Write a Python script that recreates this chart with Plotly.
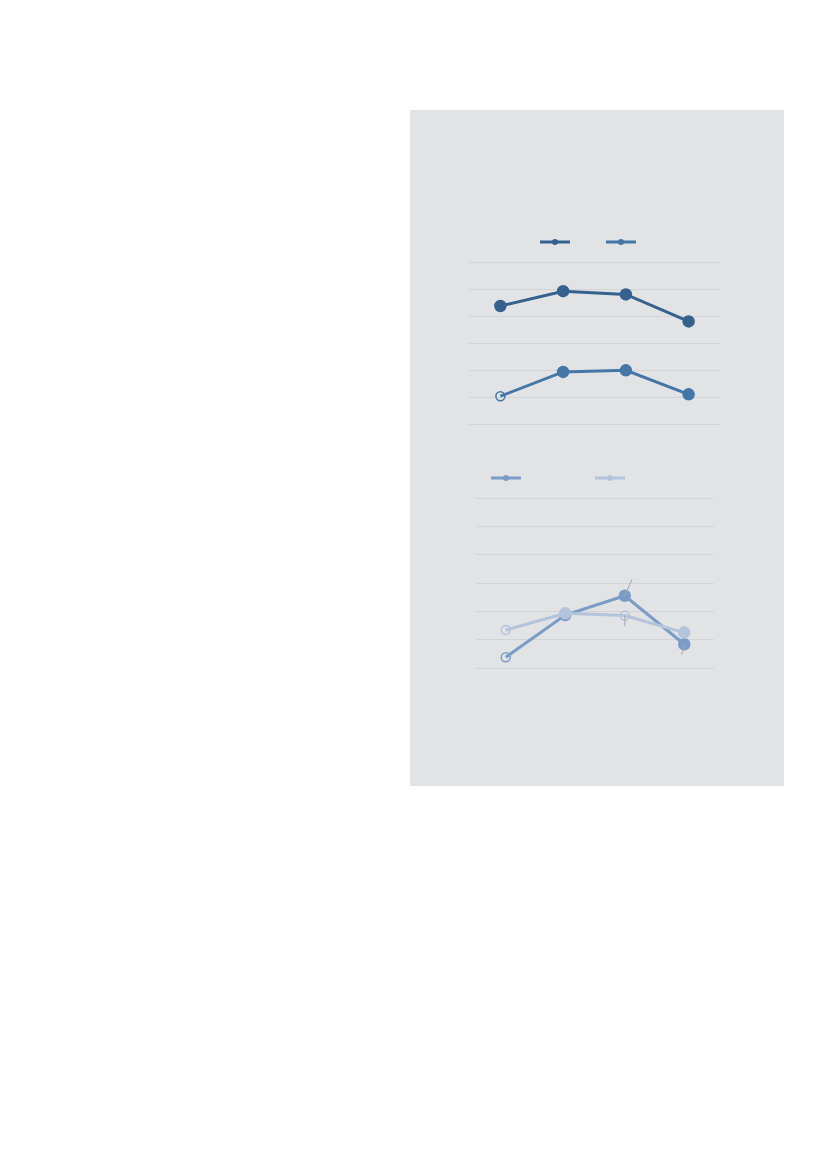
import plotly.graph_objects as go

# ---- data ----
categories = ["P1", "P2", "P3", "P4"]

top_series_a = [43.8, 49.3, 48.1, 38.1]
top_series_b = [10.4, 19.4, 20.0, 11.1]
top_symbols_a = ["circle", "circle", "circle", "circle"]
top_symbols_b = ["circle-open", "circle", "circle", "circle"]

bottom_series_c = [3.9, 18.8, 25.6, 8.5]
bottom_series_d = [13.5, 19.4, 18.6, 12.6]
bottom_symbols_c = ["circle-open", "circle", "circle", "circle"]
bottom_symbols_d = ["circle-open", "circle", "circle-open", "circle"]

names = ["Series A", "Series B", "Series C", "Series D"]
colors = ["#34618e", "#4576a8", "#7a9cc6", "#b3c4dc"]

y_ticks = [0, 10, 20, 30, 40, 50, 60]

W, H = 827, 1169
OFF = 8  # page body margin
PANEL = "#e2e3e5"
GRID = "#d2d4d7"


def fx(v):
    return (v - OFF) / W


def fy(v):
    return 1 - (v - OFF) / H


fig = go.Figure()


def add_series(xa, ya, vals, symbols, color, legend, name):
    sizes = [9 if "open" in s else 11 for s in symbols]
    fig.add_trace(go.Scatter(
        x=categories, y=vals, mode="lines+markers",
        line=dict(color=color, width=3),
        marker=dict(color=color, size=sizes, symbol=symbols, opacity=1,
                    line=dict(color=color, width=1.5)),
        xaxis=xa, yaxis=ya, showlegend=False, name=name,
    ))
    # legend-only entry
    fig.add_trace(go.Scatter(
        x=[None], y=[None], mode="lines+markers",
        line=dict(color=color, width=3),
        marker=dict(color=color, size=6, opacity=1),
        xaxis=xa, yaxis=ya, showlegend=True, legend=legend, name=name,
    ))


add_series("x", "y", top_series_a, top_symbols_a, colors[0], "legend", names[0])
add_series("x", "y", top_series_b, top_symbols_b, colors[1], "legend", names[1])
add_series("x2", "y2", bottom_series_c, bottom_symbols_c, colors[2], "legend2", names[2])
add_series("x2", "y2", bottom_series_d, bottom_symbols_d, colors[3], "legend2", names[3])

axis_common = dict(showticklabels=False, showline=False, zeroline=False)

# top plot: 0 at y=424.3, 60 at y=262.3  (2.7 px/unit), padded by 2 units
# bottom plot: 0 at 668.3, 60 at 498.3 (2.833 px/unit), padded by 2 units
fig.update_layout(
    width=W, height=H,
    margin=dict(l=0, r=0, t=0, b=0),
    paper_bgcolor="white",
    plot_bgcolor="rgba(0,0,0,0)",
    font=dict(family="Roboto", size=10),
    xaxis=dict(domain=[fx(469), fx(720)], range=[-0.5, 3.5],
               showgrid=False, anchor="y", **axis_common),
    yaxis=dict(domain=[fy(424.3 + 5.4), fy(262.3 - 5.4)], range=[-2, 62],
               tickvals=y_ticks, showgrid=True, gridcolor=GRID, gridwidth=1,
               anchor="x", **axis_common),
    xaxis2=dict(domain=[fx(476), fx(714)], range=[-0.5, 3.5],
                showgrid=False, anchor="y2", **axis_common),
    yaxis2=dict(domain=[fy(668.3 + 5.67), fy(498.3 - 5.67)], range=[-2, 62],
                tickvals=y_ticks, showgrid=True, gridcolor=GRID, gridwidth=1,
                anchor="x2", **axis_common),
    legend=dict(orientation="h", x=(527 - 0) / W, xanchor="left",
                y=fy(242), yanchor="middle",
                bgcolor="rgba(0,0,0,0)", entrywidth=21, entrywidthmode="pixels",
                font=dict(color="rgba(0,0,0,0)", size=10)),
    legend2=dict(orientation="h", x=(478 - 0) / W, xanchor="left",
                 y=fy(478), yanchor="middle",
                 bgcolor="rgba(0,0,0,0)", entrywidth=59, entrywidthmode="pixels",
                 font=dict(color="rgba(0,0,0,0)", size=10)),
    shapes=[dict(type="rect", xref="paper", yref="paper",
                 x0=fx(410), x1=fx(784), y0=fy(786), y1=fy(110),
                 fillcolor=PANEL, line=dict(width=0), layer="below")],
)

# leader lines (annotations without visible text)
leaders = [
    (categories[2], bottom_series_c[2], 8, -18),
    (categories[2], bottom_series_d[2], 0, 12),
    (categories[3], bottom_series_c[3], -3, 12),
]
for cx, cy, ax, ay in leaders:
    fig.add_annotation(x=cx, y=cy, xref="x2", yref="y2", text="",
                       showarrow=True, arrowhead=0, arrowwidth=1,
                       arrowcolor="#a8a8a8", ax=ax, ay=ay, standoff=0)

fig.write_html("out.html")
